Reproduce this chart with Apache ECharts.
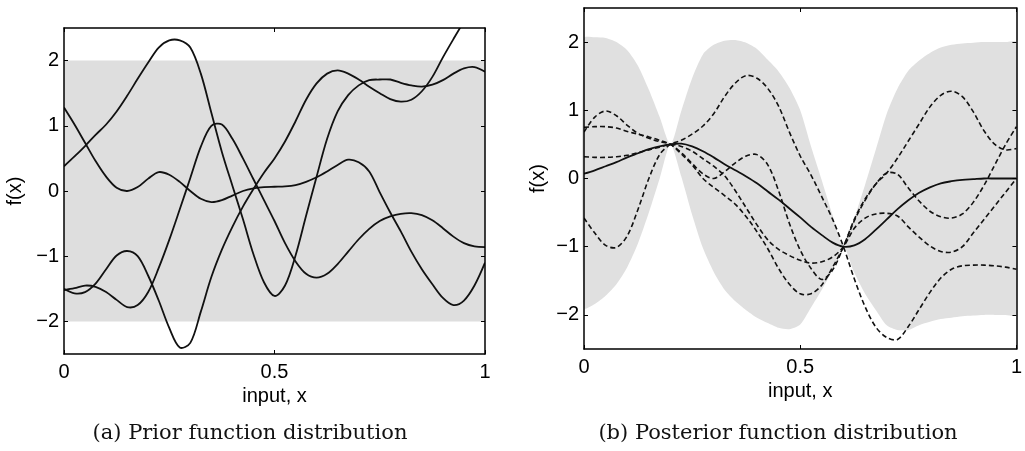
<!DOCTYPE html>
<html>
<head>
<meta charset="utf-8">
<script src="https://cdn.jsdelivr.net/npm/echarts@6/dist/echarts.min.js"></script>
<style>
html,body{margin:0;padding:0;background:#fff;}
#chart{width:1025px;height:451px;}
</style>
</head>
<body>
<div id="chart"></div>
<script>
// ---- shared x grid (input, x) ----
const xs = [0, 0.025, 0.05, 0.075, 0.1, 0.125, 0.15, 0.175, 0.2, 0.225, 0.25, 0.275, 0.3, 0.325, 0.35, 0.375, 0.4, 0.425, 0.45, 0.475, 0.5, 0.525, 0.55, 0.575, 0.6, 0.625, 0.65, 0.675, 0.7, 0.725, 0.75, 0.775, 0.8, 0.825, 0.85, 0.875, 0.9, 0.925, 0.95, 0.975, 1];

// ---- (a) prior samples ----
const priorA = [1.28, 1.02, 0.74, 0.46, 0.22, 0.05, 0.0, 0.06, 0.19, 0.29, 0.25, 0.14, 0.0, -0.12, -0.17, -0.14, -0.07, 0.0, 0.04, 0.06, 0.065, 0.07, 0.09, 0.14, 0.21, 0.3, 0.4, 0.48, 0.44, 0.3, -0.02, -0.33, -0.62, -0.93, -1.2, -1.43, -1.64, -1.75, -1.68, -1.45, -1.1];
const priorB = [0.38, 0.53, 0.69, 0.86, 1.02, 1.22, 1.46, 1.72, 1.97, 2.2, 2.31, 2.31, 2.2, 1.8, 1.2, 0.6, 0.08, -0.43, -0.97, -1.4, -1.61, -1.45, -0.99, -0.38, 0.22, 0.8, 1.22, 1.47, 1.62, 1.7, 1.71, 1.71, 1.66, 1.62, 1.6, 1.63, 1.7, 1.8, 1.88, 1.9, 1.83];
const priorC = [-1.5, -1.57, -1.55, -1.42, -1.2, -0.99, -0.92, -1.0, -1.3, -1.68, -2.1, -2.4, -2.33, -1.85, -1.32, -0.9, -0.55, -0.24, 0.03, 0.28, 0.5, 0.76, 1.07, 1.4, 1.65, 1.8, 1.85, 1.8, 1.71, 1.6, 1.5, 1.41, 1.37, 1.4, 1.53, 1.75, 2.05, 2.33, 2.6, 2.85, 3.05];
const priorD = [-1.52, -1.49, -1.45, -1.47, -1.55, -1.67, -1.78, -1.75, -1.55, -1.18, -0.75, -0.28, 0.2, 0.68, 1.0, 1.02, 0.8, 0.5, 0.18, -0.14, -0.46, -0.8, -1.08, -1.27, -1.33, -1.27, -1.12, -0.93, -0.74, -0.58, -0.46, -0.39, -0.35, -0.34, -0.37, -0.45, -0.57, -0.7, -0.8, -0.85, -0.86];
const priorBandLow = -2;
const priorBandHigh = 2;

// ---- (b) posterior ----
const postMean = [0.07, 0.12, 0.18, 0.24, 0.31, 0.37, 0.43, 0.47, 0.5, 0.51, 0.47, 0.4, 0.31, 0.21, 0.12, 0.03, -0.07, -0.19, -0.31, -0.44, -0.57, -0.71, -0.83, -0.94, -1.0, -0.98, -0.89, -0.75, -0.6, -0.45, -0.32, -0.21, -0.13, -0.07, -0.04, -0.02, -0.01, 0, 0, 0, 0];
const postUpper = [2.06, 2.07, 2.06, 2.0, 1.88, 1.65, 1.3, 0.9, 0.5, 0.99, 1.47, 1.82, 1.96, 2.02, 2.03, 1.99, 1.9, 1.74, 1.57, 1.33, 1.0, 0.47, -0.03, -0.54, -1.0, -0.58, -0.09, 0.43, 0.95, 1.32, 1.58, 1.73, 1.84, 1.92, 1.96, 1.98, 1.99, 2.0, 2.0, 2.0, 2.0];
const postLower = [-1.9, -1.84, -1.72, -1.55, -1.3, -0.95, -0.5, 0.0, 0.5, 0.03, -0.53, -1.02, -1.37, -1.63, -1.8, -1.93, -2.04, -2.12, -2.19, -2.21, -2.14, -1.89, -1.63, -1.34, -1.0, -1.38, -1.69, -1.93, -2.15, -2.22, -2.22, -2.15, -2.1, -2.06, -2.04, -2.02, -2.01, -2.0, -2.0, -2.0, -2.0];
const postS1 = [-0.58, -0.8, -0.98, -1.01, -0.84, -0.45, 0.0, 0.35, 0.5, 0.56, 0.65, 0.77, 0.95, 1.2, 1.4, 1.51, 1.47, 1.32, 1.06, 0.68, 0.33, 0.05, -0.27, -0.6, -1.0, -1.47, -1.88, -2.18, -2.33, -2.36, -2.17, -1.92, -1.67, -1.46, -1.33, -1.28, -1.27, -1.27, -1.28, -1.3, -1.33];
const postS2 = [0.68, 0.9, 0.99, 0.92, 0.78, 0.66, 0.59, 0.54, 0.5, 0.38, 0.22, 0.07, 0.0, 0.1, 0.23, 0.33, 0.35, 0.2, -0.18, -0.66, -1.05, -1.32, -1.48, -1.34, -1.0, -0.6, -0.3, -0.08, 0.08, 0.3, 0.55, 0.8, 1.05, 1.22, 1.28, 1.2, 0.98, 0.7, 0.5, 0.42, 0.44];
const postS3 = [0.75, 0.76, 0.76, 0.74, 0.69, 0.65, 0.61, 0.56, 0.5, 0.36, 0.2, 0.0, -0.13, -0.25, -0.38, -0.56, -0.78, -1.03, -1.32, -1.55, -1.69, -1.69, -1.56, -1.3, -1.0, -0.62, -0.32, -0.08, 0.08, 0.06, -0.14, -0.33, -0.48, -0.56, -0.58, -0.52, -0.35, -0.1, 0.2, 0.5, 0.76];
const postS4 = [0.32, 0.31, 0.31, 0.32, 0.34, 0.38, 0.42, 0.46, 0.5, 0.47, 0.4, 0.29, 0.18, 0.04, -0.18, -0.43, -0.68, -0.9, -1.04, -1.13, -1.2, -1.24, -1.22, -1.15, -1.0, -0.73, -0.58, -0.52, -0.51, -0.55, -0.71, -0.86, -0.99, -1.07, -1.08, -1.0, -0.8, -0.6, -0.4, -0.2, 0.0];

// ---- axes ticks / labels ----
const xTickInterval = 0.5;
const yTicks = [-2, -1, 0, 1, 2];
const yRange = [-2.5, 2.5];
const xRange = [0, 1];
const xName = 'input, x';
const yName = 'f(x)';
const captions = ['(a) Prior function distribution', '(b) Posterior function distribution'];

const minus = v => String(v).replace('-', '\u2212');
const SANS = '"Liberation Sans", Arial, Helvetica, sans-serif';
const lineCol = '#000';

function xAxisDef(grid, pos) {
  const bottom = pos === 'bottom';
  return {
    type: 'value', gridIndex: grid, position: pos, min: xRange[0], max: xRange[1], interval: xTickInterval,
    z: 10,
    axisLine: { show: true, onZero: false, lineStyle: { color: lineCol, width: 1.5 } },
    axisTick: { show: true, inside: true, length: 4, lineStyle: { color: lineCol, width: 1 } },
    axisLabel: { show: bottom, margin: 8, fontSize: 20, color: '#000', fontFamily: SANS,
                 formatter: v => minus(v) },
    splitLine: { show: false },
    name: bottom ? xName : '', nameLocation: 'middle', nameGap: 31,
    nameTextStyle: { fontSize: 20, color: '#000', fontFamily: SANS }
  };
}
function yAxisDef(grid, pos, gap) {
  const left = pos === 'left';
  return {
    type: 'value', gridIndex: grid, position: pos, min: yRange[0], max: yRange[1],
    z: 10,
    axisLine: { show: true, onZero: false, lineStyle: { color: lineCol, width: 1.5 } },
    axisTick: { show: true, inside: true, length: 4, customValues: yTicks, lineStyle: { color: lineCol, width: 1 } },
    axisLabel: { show: left, margin: 5, fontSize: 20, color: '#000', fontFamily: SANS,
                 customValues: yTicks, formatter: v => minus(v) },
    splitLine: { show: false },
    name: left ? yName : '', nameLocation: 'middle', nameGap: gap, nameRotate: 90,
    nameTextStyle: { fontSize: 20, color: '#000', fontFamily: SANS }
  };
}

// a smooth curve through the sample values, placed with the axes' own scales
function curve(ys, axisIdx, dash, width) {
  return {
    type: 'custom', xAxisIndex: axisIdx, yAxisIndex: axisIdx, z: 3, silent: true, clip: true,
    data: [[0, 0]],
    renderItem: (params, api) => ({
      type: 'polyline',
      shape: { points: xs.map((x, i) => api.coord([x, ys[i]])), smooth: 0.33 },
      style: { stroke: '#111', lineWidth: width, fill: null, lineDash: dash || null }
    })
  };
}

const chart = echarts.init(document.getElementById('chart'), null, { renderer: 'canvas' });
chart.setOption({
  animation: false,
  backgroundColor: '#fff',
  grid: [
    { left: 64, top: 28, width: 421, height: 326 },
    { left: 584, top: 8, width: 439, height: 341 }
  ],
  xAxis: [xAxisDef(0, 'bottom'), xAxisDef(0, 'top'), xAxisDef(1, 'bottom'), xAxisDef(1, 'top')],
  yAxis: [yAxisDef(0, 'left', 39), yAxisDef(0, 'right', 0), yAxisDef(1, 'left', 36), yAxisDef(1, 'right', 0)],
  graphic: [
    { type: 'text', x: 250, y: 434, silent: true,
      style: { text: captions[0], font: '21px "DejaVu Serif", serif', fill: '#111',
               align: 'center', verticalAlign: 'middle', textAlign: 'center', textVerticalAlign: 'middle' } },
    { type: 'text', x: 778, y: 434, silent: true,
      style: { text: captions[1], font: '21px "DejaVu Serif", serif', fill: '#111',
               align: 'center', verticalAlign: 'middle', textAlign: 'center', textVerticalAlign: 'middle' } }
  ],
  series: [
    // prior band (mean 0, +/- 2 sd)
    { type: 'custom', xAxisIndex: 0, yAxisIndex: 0, z: 1, silent: true, data: [[0, 0]],
      renderItem: (params, api) => {
        const p0 = api.coord([xRange[0], priorBandHigh]);
        const p1 = api.coord([xRange[1], priorBandLow]);
        return { type: 'rect', shape: { x: p0[0], y: p0[1], width: p1[0] - p0[0], height: p1[1] - p0[1] },
                 style: { fill: '#dedede' } };
      } },
    curve(priorA, 0, null, 1.8), curve(priorB, 0, null, 1.8), curve(priorC, 0, null, 1.8), curve(priorD, 0, null, 1.8),
    // posterior band
    { type: 'custom', xAxisIndex: 2, yAxisIndex: 2, z: 1, silent: true, data: [[0, 0]],
      renderItem: (params, api) => {
        const pts = [];
        xs.forEach((x, i) => pts.push(api.coord([x, postUpper[i]])));
        for (let i = xs.length - 1; i >= 0; i--) pts.push(api.coord([xs[i], postLower[i]]));
        return { type: 'polygon', shape: { points: pts, smooth: 0.25 }, style: { fill: '#e0e0e0' } };
      } },
    curve(postS1, 2, [5, 3], 1.6), curve(postS2, 2, [5, 3], 1.6), curve(postS3, 2, [5, 3], 1.6), curve(postS4, 2, [5, 3], 1.6),
    curve(postMean, 2, null, 1.8)
  ]
});
</script>
</body>
</html>
